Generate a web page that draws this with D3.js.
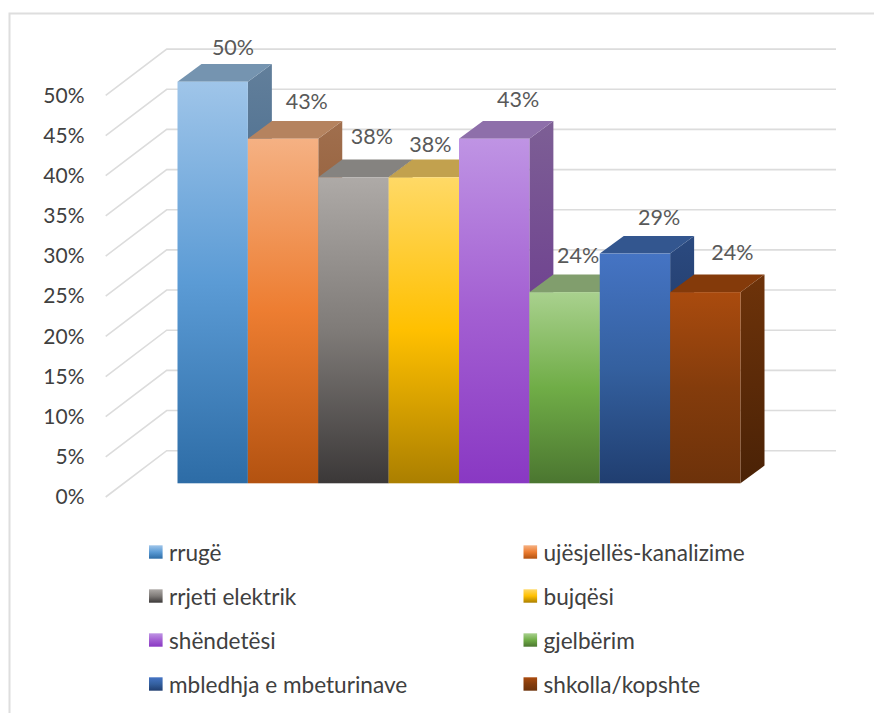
<!DOCTYPE html>
<html><head><meta charset="utf-8">
<script src="https://cdn.jsdelivr.net/npm/d3@7"></script>
<style>
html,body{margin:0;padding:0;background:#fff}
svg{display:block}
text{font-family:Lato,"Open Sans",sans-serif}
</style></head><body>
<div id="chart"></div>
<script>
const categories=["rrugë","ujësjellës-kanalizime","rrjeti elektrik","bujqësi","shëndetësi","gjelbërim","mbledhja e mbeturinave","shkolla/kopshte"];
const values=[50,42.9,38.1,38.1,42.9,23.8,28.6,23.8];
const yTicks=[0,5,10,15,20,25,30,35,40,45,50];
const frontTop=["#9fc5e9","#f5b183","#aeaaa7","#ffd966","#bf94e4","#a9d18e","#4574c4","#aa4b0e"];
const frontMid=["#5b9bd5","#ed7d31","#7f7b78","#ffc000","#a35fd2","#70ad47","#34609f","#843c0c"];
const frontBot=["#2d6ca6","#b35210","#3b3838","#ab7f00","#8938c3","#4b7630","#203e70","#6d320a"];
const topFace=["#7594b0","#b5835f","#858380","#c2a14e","#8e6faa","#819e6d","#33568f","#843a0a"];
const sideTop=["#627f9b","#a06f4e","#6e6b69","#a88a3c","#7d5f95","#6d8a5b","#2b4a80","#6e330a"];
const sideBot=["#1f4c75","#7d3a0b","#2a2727","#7a5b00","#62278b","#365522","#16294d","#4a2206"];
const labelDx=[20.3,23.7,18.4,6.5,24,13.5,24.2,27];
const labelDy=[-33.7,-36.3,-40,-32.7,-38.3,-36.3,-36,-39.3];

const W=874,H=713;
const depth={x:24,y:17.7};
const wall={left:{x:105.7,y:13.7},back:{x:166.7,y:-32.6},right:836};
const svg=d3.select("#chart").append("svg").attr("width",W).attr("height",H);
const defs=svg.append("defs");

const x=d3.scaleBand().domain(categories).range([177.5,740.5]).padding(0);
const y=d3.scaleLinear().domain([0,50]).range([483.3,81.7]);

// frame
svg.append("path").attr("d",`M9.5,713V13.5H874`).attr("fill","none").attr("stroke","#dedede").attr("stroke-width",2);

// gridlines
svg.append("g").selectAll("path").data(yTicks).join("path")
 .attr("d",d=>`M${wall.left.x},${y(d)+wall.left.y}L${wall.back.x},${y(d)+wall.back.y}H${wall.right}`)
 .attr("fill","none").attr("stroke","#dcdcdc").attr("stroke-width",1.6);

// axis
const axis=d3.axisLeft(y).tickValues(yTicks).tickFormat(d=>d+"%").tickSize(0).tickPadding(0);
const ag=svg.append("g").attr("transform",`translate(84.5,${wall.left.y})`).call(axis);
ag.select(".domain").remove();
ag.selectAll("text").attr("font-size",21).attr("fill","#404040").attr("font-family","Lato");

// gradients
function grad(id,stops){
 const g=defs.append("linearGradient").attr("id",id).attr("x1",0).attr("y1",0).attr("x2",0).attr("y2",1);
 stops.forEach((c,i)=>g.append("stop").attr("offset",i/(stops.length-1)).attr("stop-color",c));
}
categories.forEach((c,i)=>{
 grad("f"+i,[frontTop[i],frontMid[i],frontBot[i]]);
 grad("s"+i,[sideTop[i],sideBot[i]]);
});

// bars, drawn left to right
const bars=svg.append("g").selectAll("g").data(categories).join("g");
bars.append("path").attr("class","side").attr("fill",(d,i)=>`url(#s${i})`).attr("d",(d,i)=>{
 const r=x(d)+x.bandwidth(),t=y(values[i]),b=y(0);
 return `M${r},${t}l${depth.x},${-depth.y}V${b-depth.y}L${r},${b}Z`;
});
bars.append("path").attr("class","top").attr("fill",(d,i)=>topFace[i]).attr("d",(d,i)=>{
 const l=x(d),t=y(values[i]);
 return `M${l},${t}l${depth.x},${-depth.y}h${x.bandwidth()}l${-depth.x},${depth.y}Z`;
});
bars.append("rect").attr("class","front").attr("fill",(d,i)=>`url(#f${i})`)
 .attr("x",d=>x(d)).attr("width",x.bandwidth())
 .attr("y",(d,i)=>y(values[i])).attr("height",(d,i)=>y(0)-y(values[i]));

// labels
svg.append("g").selectAll("text").data(categories).join("text")
 .attr("x",(d,i)=>x(d)+x.bandwidth()/2+labelDx[i])
 .attr("y",(d,i)=>y(values[i])+labelDy[i]-1)
 .attr("text-anchor","middle").attr("dominant-baseline","central")
 .attr("font-size",21.5).attr("fill","#595959")
 .text((d,i)=>Math.round(values[i])+"%");

// legend
const legCol=d3.scaleOrdinal().domain([0,1]).range([149,523.5]);
const legRow=d3.scalePoint().domain([0,1,2,3]).range([552,684]);
const leg=svg.append("g").selectAll("g").data(categories).join("g")
 .attr("transform",(d,i)=>`translate(${legCol(i%2)},${legRow(Math.floor(i/2))})`);
leg.append("rect").attr("x",0).attr("y",-6.7).attr("width",13.6).attr("height",13.4)
 .attr("fill",(d,i)=>`url(#f${i})`);
leg.append("text").attr("x",20).attr("y",0).attr("dominant-baseline","central")
 .attr("font-size",22.6).attr("fill","#404040").text(d=>d);
</script>
</body></html>
